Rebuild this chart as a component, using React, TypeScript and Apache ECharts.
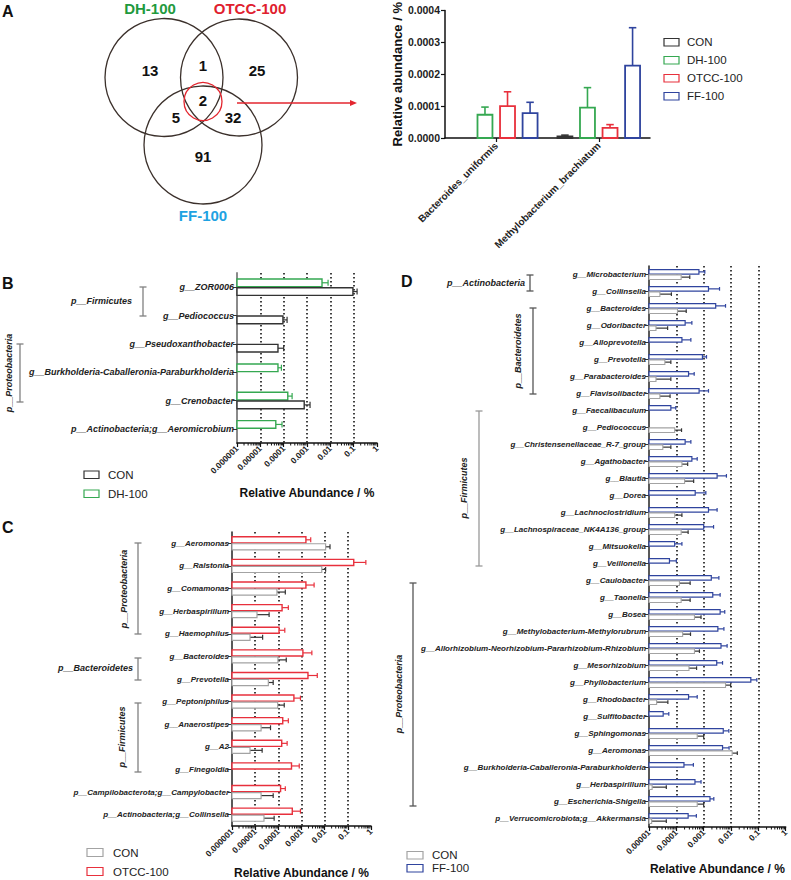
import React, { useEffect, useRef } from 'react';
import * as echarts from 'echarts';

const FONT = 'Arial, "Liberation Sans", Helvetica, sans-serif';

// ---------- Panel A: Venn ----------
const vennSets = ['DH-100', 'OTCC-100', 'FF-100'];
// DH only, DH∩OTCC, OTCC only, all three, DH∩FF, OTCC∩FF, FF only
const vennCounts = [13, 1, 25, 2, 5, 32, 91];

// ---------- Panel A: bar chart ----------
const aCategories = ['Bacteroides_uniformis', 'Methylobacterium_brachiatum'];
const aGroups = ['CON', 'DH-100', 'OTCC-100', 'FF-100'];
const aCON = [null, 0.000005];
const aCONUpper = [null, 0.000009];
const aDH = [0.000073, 0.000095];
const aDHUpper = [0.000097, 0.000158];
const aOTCC = [0.0001, 0.000032];
const aOTCCUpper = [0.000145, 0.000042];
const aFF = [0.000078, 0.000227];
const aFFUpper = [0.000112, 0.000346];
const aYTicks = [0, 0.0001, 0.0002, 0.0003, 0.0004];

// ---------- log axis tick labels ----------
const logTickLabels = ['0.000001', '0.00001', '0.0001', '0.001', '0.01', '0.1', '1'];
const minorSteps = [2, 3, 4, 5, 6, 7, 8, 9];

// ---------- Panel B ----------
const bCategories = [
  'g__ZOR0006',
  'g__Pediococcus',
  'g__Pseudoxanthobacter',
  'g__Burkholderia-Caballeronia-Paraburkholderia',
  'g__Crenobacter',
  'p__Actinobacteria;g__Aeromicrobium',
];
const bDH = [0.0044, null, null, 5.7e-5, 1.5e-4, 4.6e-5];
const bDHUpper = [0.008, null, null, 8e-5, 2.3e-4, 8.5e-5];
const bCON = [0.093, 9.3e-5, 5.7e-5, null, 7.6e-4, null];
const bCONUpper = [0.14, 1.4e-4, 1e-4, null, 1.35e-3, null];

// ---------- Panel C ----------
const cCategories = [
  'g__Aeromonas',
  'g__Ralstonia',
  'g__Comamonas',
  'g__Herbaspirillum',
  'g__Haemophilus',
  'g__Bacteroides',
  'g__Prevotella',
  'g__Peptoniphilus',
  'g__Anaerostipes',
  'g__A2',
  'g__Finegoldia',
  'p__Campilobacterota;g__Campylobacter',
  'p__Actinobacteria;g__Collinsella',
];
const cOTCC = [1.55e-3, 0.18, 1.55e-3, 1.45e-4, 1.07e-4, 1.15e-3, 1.9e-3, 4.7e-4, 1.55e-4, 1.4e-4, 3.7e-4, 1.25e-4, 4e-4];
const cOTCCUpper = [2.5e-3, 0.6, 3.5e-3, 2.7e-4, 1.9e-4, 2.8e-3, 4.8e-3, 9e-4, 2.7e-4, 2.4e-4, 8e-4, 2e-4, 9e-4];
const cCON = [1.1e-2, 7.5e-3, 8.7e-5, 1.2e-5, 6e-6, 9.6e-5, 3.7e-5, 9.4e-5, 1.8e-5, 6e-6, null, 1.8e-5, 2.4e-5];
const cCONUpper = [1.7e-2, 1.1e-2, 2e-4, 4e-5, 2.1e-5, 2.2e-4, 6e-5, 1.8e-4, 4.6e-5, 2e-5, null, 6e-5, 6.6e-5];

// ---------- Panel D ----------
const dCategories = [
  'g__Microbacterium',
  'g__Collinsella',
  'g__Bacteroides',
  'g__Odoribacter',
  'g__Alloprevotella',
  'g__Prevotella',
  'g__Parabacteroides',
  'g__Flavisolibacter',
  'g__Faecalibaculum',
  'g__Pediococcus',
  'g__Christensenellaceae_R-7_group',
  'g__Agathobacter',
  'g__Blautia',
  'g__Dorea',
  'g__Lachnoclostridium',
  'g__Lachnospiraceae_NK4A136_group',
  'g__Mitsuokella',
  'g__Veillonella',
  'g__Caulobacter',
  'g__Taonella',
  'g__Bosea',
  'g__Methylobacterium-Methylorubrum',
  'g__Allorhizobium-Neorhizobium-Pararhizobium-Rhizobium',
  'g__Mesorhizobium',
  'g__Phyllobacterium',
  'g__Rhodobacter',
  'g__Sulfitobacter',
  'g__Sphingomonas',
  'g__Aeromonas',
  'g__Burkholderia-Caballeronia-Paraburkholderia',
  'g__Herbaspirillum',
  'g__Escherichia-Shigella',
  'p__Verrucomicrobiota;g__Akkermansia',
];
const dFF = [6.7e-4, 1.5e-3, 2.75e-3, 2.1e-4, 1.6e-4, 9e-4, 2.8e-4, 6.8e-4, 6.3e-5, null, 2.1e-4, 3.7e-4, 3.1e-3, 4.9e-4, 1.5e-3, 1e-3, 8.7e-5, 5.6e-5, 1.9e-3, 2.15e-3, 4e-3, 3.3e-3, 4.3e-3, 3e-3, 5.3e-2, 2.8e-4, 3.3e-5, 5.2e-3, 4.9e-3, 1.9e-4, 4.8e-4, 1.7e-3, 2.7e-4];
const dFFUpper = [1.1e-3, 3.8e-3, 6.3e-3, 3.7e-4, 3.4e-4, 1.27e-3, 4.5e-4, 1.5e-3, 9.5e-5, null, 3.4e-4, 5.8e-4, 6.8e-3, 1.2e-3, 3.1e-3, 2.3e-3, 1.6e-4, 1e-4, 3.6e-3, 4e-3, 5.9e-3, 5.5e-3, 7.2e-3, 4.9e-3, 8.8e-2, 5.8e-4, 5.3e-5, 8.3e-3, 8.5e-3, 4.2e-4, 8e-4, 2.35e-3, 5.4e-4];
const dCON = [1.5e-4, 2.5e-5, 1.1e-4, 1.8e-5, null, 3.8e-5, 1.8e-5, 2.5e-5, null, 8.7e-5, 3.2e-5, 1.6e-4, 2e-4, null, 8.7e-5, 1.5e-4, null, null, 1.3e-4, 1.5e-4, 4.6e-4, 1.7e-4, 4.6e-4, 2.9e-4, 6.3e-3, 1.9e-5, null, 5.8e-4, 1.1e-2, null, 1.3e-5, 5.8e-4, 1.25e-5];
const dCONUpper = [3.1e-4, 6.6e-5, 2.3e-4, 4.8e-5, null, 6.3e-5, 6.3e-5, 5.9e-5, null, 1.55e-4, 6.3e-5, 2.6e-4, 4.3e-4, null, 1.6e-4, 2.7e-4, null, null, 3.2e-4, 3.2e-4, 8e-4, 3.3e-4, 7e-4, 5.5e-4, 9.7e-3, 4.9e-5, null, 1e-3, 1.7e-2, null, 4.3e-5, 1e-3, 4.3e-5];

// ---------- colours ----------
const COL = {
  con: '#333333',
  conLight: '#a3a3a3',
  dh: '#35a851',
  otcc: '#e8303c',
  ff: '#2f449e',
  vennDH: '#1f9a3e',
  vennOTCC: '#e0202e',
  vennFF: '#1ea2e2',
};

function toData(vals: (number | null)[], uppers: (number | null)[], catFirst: boolean) {
  const out: any[] = [];
  vals.forEach((v, i) => {
    if (v == null) return;
    out.push(catFirst ? [i, v, uppers[i]] : [v, i, uppers[i]]);
  });
  return out;
}

function vbarRender(slot: number, color: string) {
  return (params: any, api: any) => {
    const cat = api.value(0);
    const v = api.value(1);
    const up = api.value(2);
    const cs = params.coordSys;
    const band = cs.width / aCategories.length;
    const top = api.coord([cat, v]);
    const base = api.coord([cat, 0]);
    const cx = top[0] + (slot - 1.5) * band * 0.22;
    const w = band * 0.146;
    const ey = api.coord([cat, up])[1];
    return {
      type: 'group',
      children: [
        { type: 'line', shape: { x1: cx, y1: top[1], x2: cx, y2: ey }, style: { stroke: color, lineWidth: 1.6 } },
        { type: 'line', shape: { x1: cx - w * 0.25, y1: ey, x2: cx + w * 0.25, y2: ey }, style: { stroke: color, lineWidth: 1.6 } },
        {
          type: 'rect',
          shape: { x: cx - w / 2, y: top[1], width: w, height: base[1] - top[1] },
          style: { fill: slot === 0 ? '#777' : '#fff', stroke: color, lineWidth: 1.8 },
        },
      ],
    };
  };
}

function hbarRender(n: number, slot: number, stroke: string, errColor: string, lw: number) {
  return (params: any, api: any) => {
    const v = api.value(0);
    const cat = api.value(1);
    const up = api.value(2);
    const cs = params.coordSys;
    const band = cs.height / n;
    const c = api.coord([v, cat]);
    const yc = c[1] + (slot === 0 ? -1 : 1) * band * 0.155;
    const h = band * 0.27;
    const xe = api.coord([up, cat])[0];
    return {
      type: 'group',
      children: [
        { type: 'line', shape: { x1: c[0], y1: yc, x2: xe, y2: yc }, style: { stroke: errColor, lineWidth: 1.2 } },
        { type: 'line', shape: { x1: xe, y1: yc - h * 0.4, x2: xe, y2: yc + h * 0.4 }, style: { stroke: errColor, lineWidth: 1.2 } },
        {
          type: 'rect',
          shape: { x: cs.x, y: yc - h / 2, width: c[0] - cs.x, height: h },
          style: { fill: '#fff', stroke, lineWidth: lw },
        },
      ],
    };
  };
}

function minorData(minExp: number) {
  const out: number[][] = [];
  for (let e = minExp; e < 0; e++) {
    for (const m of minorSteps) out.push([m * Math.pow(10, e), 0]);
  }
  return out;
}

function minorRender(params: any, api: any) {
  const cs = params.coordSys;
  const x = api.coord([api.value(0), 0])[0];
  const y0 = cs.y + cs.height;
  return { type: 'line', shape: { x1: x, y1: y0, x2: x, y2: y0 + 2.5 }, style: { stroke: '#111', lineWidth: 1 } };
}

function logXAxis(gridIndex: number, minExp: number, nameGap: number) {
  return {
    type: 'log',
    logBase: 10,
    gridIndex,
    min: Math.pow(10, minExp),
    max: 1,
    name: 'Relative Abundance / %',
    nameLocation: 'middle',
    nameGap,
    nameTextStyle: { fontFamily: FONT, fontWeight: 'bold', fontSize: 12, color: '#111' },
    axisLine: { show: true, onZero: false, lineStyle: { color: '#111', width: 1.5 } },
    axisTick: { show: true, length: 4, lineStyle: { color: '#111', width: 1.2 } },
    axisLabel: {
      rotate: 45,
      fontFamily: FONT,
      fontWeight: 'bold',
      fontSize: 8.5,
      color: '#222',
      margin: 4,
      formatter: (v: number) => logTickLabels[Math.round(Math.log10(v)) + 6],
    },
    splitLine: {
      show: true,
      showMinLine: false,
      showMaxLine: false,
      lineStyle: { color: '#111', type: [1.5, 2.5], width: 1.6 },
    },
  };
}

function catYAxis(gridIndex: number, data: string[], fontSize: number, lineColor: string, lineWidth: number) {
  return {
    type: 'category',
    gridIndex,
    data,
    inverse: true,
    axisLine: { show: true, lineStyle: { color: lineColor, width: lineWidth } },
    axisTick: { show: true, alignWithLabel: true, length: 4, lineStyle: { color: '#333', width: 1 } },
    axisLabel: {
      interval: 0,
      fontFamily: FONT,
      fontWeight: 'bold',
      fontStyle: 'italic',
      fontSize,
      color: '#222',
      margin: 3,
    },
    splitLine: { show: false },
  };
}

function T(x: number, y: number, text: string, o: any = {}) {
  return {
    type: 'text',
    x,
    y,
    silent: true,
    rotation: o.rot ?? 0,
    style: {
      text,
      fill: o.color ?? '#111',
      font: `${o.italic ? 'italic' : 'normal'} ${o.weight ?? 'bold'} ${o.size ?? 12}px ${FONT}`,
      textAlign: o.align ?? 'left',
      textVerticalAlign: 'middle',
    },
  };
}

function L(x1: number, y1: number, x2: number, y2: number, color: string, w = 1.3) {
  return { type: 'line', silent: true, shape: { x1, y1, x2, y2 }, style: { stroke: color, lineWidth: w } };
}

function bracket(x: number, y1: number, y2: number, color: string) {
  return [L(x, y1, x, y2, color), L(x - 3.5, y1, x + 3.5, y1, color), L(x - 3.5, y2, x + 3.5, y2, color)];
}

function C(cx: number, cy: number, r: number, color: string) {
  return { type: 'circle', silent: true, shape: { cx, cy, r }, style: { fill: 'none', stroke: color, lineWidth: 1.3 } };
}

function legendBox(x: number, y: number, w: number, h: number, color: string, label: string, textX: number) {
  return [
    { type: 'rect', silent: true, shape: { x, y, width: w, height: h }, style: { fill: '#fff', stroke: color, lineWidth: 1.2 } },
    T(textX, y + h / 2, label, { weight: 'normal', size: 11.5, color: '#222' }),
  ];
}

const ROT = Math.PI / 2;

export default function App() {
  const ref = useRef<HTMLDivElement>(null);
  useEffect(() => {
    if (!ref.current) return;
    const chart = echarts.init(ref.current, undefined, { renderer: 'svg' });

    const vennDark = '#3b302b';
    const graphic: any[] = [
      T(2, 11, 'A', { size: 16 }),
      T(2, 283, 'B', { size: 16 }),
      T(2, 527, 'C', { size: 16 }),
      T(401, 281, 'D', { size: 16 }),
      // Venn
      C(164, 77.5, 59, vennDark),
      C(239, 77.5, 58.5, vennDark),
      C(203, 145, 59, vennDark),
      C(203, 101.5, 19, '#e3262f'),
      T(150, 8, vennSets[0], { size: 15, color: COL.vennDH, align: 'center' }),
      T(250, 8, vennSets[1], { size: 15, color: COL.vennOTCC, align: 'center' }),
      T(203, 215, vennSets[2], { size: 15, color: COL.vennFF, align: 'center' }),
      T(150, 70, String(vennCounts[0]), { size: 15, align: 'center' }),
      T(203, 65, String(vennCounts[1]), { size: 15, align: 'center' }),
      T(257, 70, String(vennCounts[2]), { size: 15, align: 'center' }),
      T(203, 100, String(vennCounts[3]), { size: 15, align: 'center' }),
      T(176, 117, String(vennCounts[4]), { size: 15, align: 'center' }),
      T(233, 117, String(vennCounts[5]), { size: 15, align: 'center' }),
      T(203, 156, String(vennCounts[6]), { size: 15, align: 'center' }),
      L(237, 103, 351, 103, '#e3262f', 1.3),
      { type: 'polygon', silent: true, shape: { points: [[350, 100], [357, 103], [350, 106]] }, style: { fill: '#e3262f' } },
      // Legend A
      ...legendBox(664, 38.5, 15, 7.5, COL.con, aGroups[0], 687),
      ...legendBox(664, 56.5, 15, 7.5, COL.dh, aGroups[1], 687),
      ...legendBox(664, 74.5, 15, 7.5, COL.otcc, aGroups[2], 687),
      ...legendBox(664, 92.5, 15, 7.5, COL.ff, aGroups[3], 687),
      // Legend B
      ...legendBox(84, 471, 15, 7.5, COL.con, 'CON', 108),
      ...legendBox(84, 490, 15, 7.5, COL.dh, 'DH-100', 108),
      // Legend C
      ...legendBox(87, 848.5, 16, 8, COL.conLight, 'CON', 113),
      ...legendBox(87, 867.5, 16, 8, COL.otcc, 'OTCC-100', 113),
      // Legend D
      ...legendBox(407, 851.5, 16, 7.5, COL.conLight, 'CON', 432),
      ...legendBox(407, 864.5, 16, 7.5, COL.ff, 'FF-100', 432),
      // Brackets B
      ...bracket(143, 287, 316, '#808080'),
      T(132, 301, 'p__Firmicutes', { size: 9, italic: true, align: 'right', color: '#222' }),
      ...bracket(20, 344, 402, '#808080'),
      T(9, 373, 'p__Proteobacteria', { size: 9, italic: true, align: 'center', rot: ROT, color: '#222' }),
      // Brackets C
      ...bracket(138, 543, 634, '#808080'),
      T(124, 589, 'p__Proteobacteria', { size: 9, italic: true, align: 'center', rot: ROT, color: '#222' }),
      ...bracket(138, 658, 680, '#808080'),
      T(133, 668, 'p__Bacteroidetes', { size: 9, italic: true, align: 'right', color: '#222' }),
      ...bracket(138, 703, 772, '#808080'),
      T(122, 737, 'p__Firmicutes', { size: 9, italic: true, align: 'center', rot: ROT, color: '#222' }),
      // Brackets D
      ...bracket(530, 275, 291, '#555'),
      T(525, 283, 'p__Actinobacteria', { size: 9, italic: true, align: 'right', color: '#222' }),
      ...bracket(533, 308, 394, '#555'),
      T(518, 351, 'p__Bacteroidetes', { size: 9, italic: true, align: 'center', rot: ROT, color: '#222' }),
      ...bracket(479, 411, 566, '#999'),
      T(464, 488, 'p__Firmicutes', { size: 9, italic: true, align: 'center', rot: ROT, color: '#222' }),
      ...bracket(413, 583, 806, '#555'),
      T(399, 694, 'p__Proteobacteria', { size: 9, italic: true, align: 'center', rot: ROT, color: '#222' }),
    ];

    const option: any = {
      animation: false,
      backgroundColor: '#ffffff',
      textStyle: { fontFamily: FONT },
      grid: [
        { left: 445, top: 5, width: 205, height: 133 },
        { left: 237, top: 273, width: 140, height: 170 },
        { left: 232, top: 532, width: 139, height: 297 },
        { left: 649, top: 266, width: 140, height: 564 },
      ],
      xAxis: [
        {
          type: 'category',
          gridIndex: 0,
          data: aCategories,
          axisLine: { show: true, lineStyle: { color: '#111', width: 1.5 } },
          axisTick: { show: true, alignWithLabel: true, length: 4, lineStyle: { color: '#111', width: 1.2 } },
          axisLabel: { interval: 0, rotate: 45, fontFamily: FONT, fontWeight: 'bold', fontSize: 10, color: '#222', margin: 6 },
        },
        logXAxis(1, -6, 44),
        logXAxis(2, -6, 41),
        logXAxis(3, -5, 36),
      ],
      yAxis: [
        {
          type: 'value',
          gridIndex: 0,
          min: aYTicks[0],
          max: aYTicks[aYTicks.length - 1],
          interval: aYTicks[1] - aYTicks[0],
          name: 'Relative abundance / %',
          nameLocation: 'middle',
          nameGap: 40,
          nameTextStyle: { fontFamily: FONT, fontWeight: 'bold', fontSize: 13, color: '#111' },
          axisLine: { show: true, lineStyle: { color: '#111', width: 1.5 } },
          axisTick: { show: true, length: 4, lineStyle: { color: '#111', width: 1.2 } },
          axisLabel: {
            fontFamily: FONT,
            fontWeight: 'bold',
            fontSize: 10.5,
            color: '#222',
            margin: 5,
            formatter: (v: number) => v.toFixed(4),
          },
          splitLine: { show: false },
        },
        catYAxis(1, bCategories, 9, '#8a8a8a', 2),
        catYAxis(2, cCategories, 8, '#222', 1.5),
        catYAxis(3, dCategories, 8, '#222', 1.5),
      ],
      series: [
        // A
        { name: aGroups[0], type: 'custom', xAxisIndex: 0, yAxisIndex: 0, renderItem: vbarRender(0, COL.con), data: toData(aCON, aCONUpper, true), encode: { x: 0, y: 1 } },
        { name: aGroups[1], type: 'custom', xAxisIndex: 0, yAxisIndex: 0, renderItem: vbarRender(1, COL.dh), data: toData(aDH, aDHUpper, true), encode: { x: 0, y: 1 } },
        { name: aGroups[2], type: 'custom', xAxisIndex: 0, yAxisIndex: 0, renderItem: vbarRender(2, COL.otcc), data: toData(aOTCC, aOTCCUpper, true), encode: { x: 0, y: 1 } },
        { name: aGroups[3], type: 'custom', xAxisIndex: 0, yAxisIndex: 0, renderItem: vbarRender(3, COL.ff), data: toData(aFF, aFFUpper, true), encode: { x: 0, y: 1 } },
        // B
        { name: 'DH-100', type: 'custom', xAxisIndex: 1, yAxisIndex: 1, renderItem: hbarRender(bCategories.length, 0, COL.dh, COL.dh, 1.4), data: toData(bDH, bDHUpper, false), encode: { x: 0, y: 1 } },
        { name: 'CON', type: 'custom', xAxisIndex: 1, yAxisIndex: 1, renderItem: hbarRender(bCategories.length, 1, COL.con, COL.con, 1.4), data: toData(bCON, bCONUpper, false), encode: { x: 0, y: 1 } },
        { name: 'minorB', type: 'custom', xAxisIndex: 1, yAxisIndex: 1, silent: true, renderItem: minorRender, data: minorData(-6), encode: { x: 0, y: 1 } },
        // C
        { name: 'OTCC-100', type: 'custom', xAxisIndex: 2, yAxisIndex: 2, renderItem: hbarRender(cCategories.length, 0, COL.otcc, COL.otcc, 1.4), data: toData(cOTCC, cOTCCUpper, false), encode: { x: 0, y: 1 } },
        { name: 'CON', type: 'custom', xAxisIndex: 2, yAxisIndex: 2, renderItem: hbarRender(cCategories.length, 1, COL.conLight, '#333', 1.2), data: toData(cCON, cCONUpper, false), encode: { x: 0, y: 1 } },
        { name: 'minorC', type: 'custom', xAxisIndex: 2, yAxisIndex: 2, silent: true, renderItem: minorRender, data: minorData(-6), encode: { x: 0, y: 1 } },
        // D
        { name: 'FF-100', type: 'custom', xAxisIndex: 3, yAxisIndex: 3, renderItem: hbarRender(dCategories.length, 0, COL.ff, COL.ff, 1.2), data: toData(dFF, dFFUpper, false), encode: { x: 0, y: 1 } },
        { name: 'CON', type: 'custom', xAxisIndex: 3, yAxisIndex: 3, renderItem: hbarRender(dCategories.length, 1, COL.conLight, '#333', 1.1), data: toData(dCON, dCONUpper, false), encode: { x: 0, y: 1 } },
        { name: 'minorD', type: 'custom', xAxisIndex: 3, yAxisIndex: 3, silent: true, renderItem: minorRender, data: minorData(-5), encode: { x: 0, y: 1 } },
      ],
      graphic,
    };
    chart.setOption(option);
    return () => chart.dispose();
  }, []);

  return (
    <div
      ref={ref}
      style={{ position: 'absolute', left: 0, top: 0, width: 791, height: 880, background: '#fff' }}
    />
  );
}
